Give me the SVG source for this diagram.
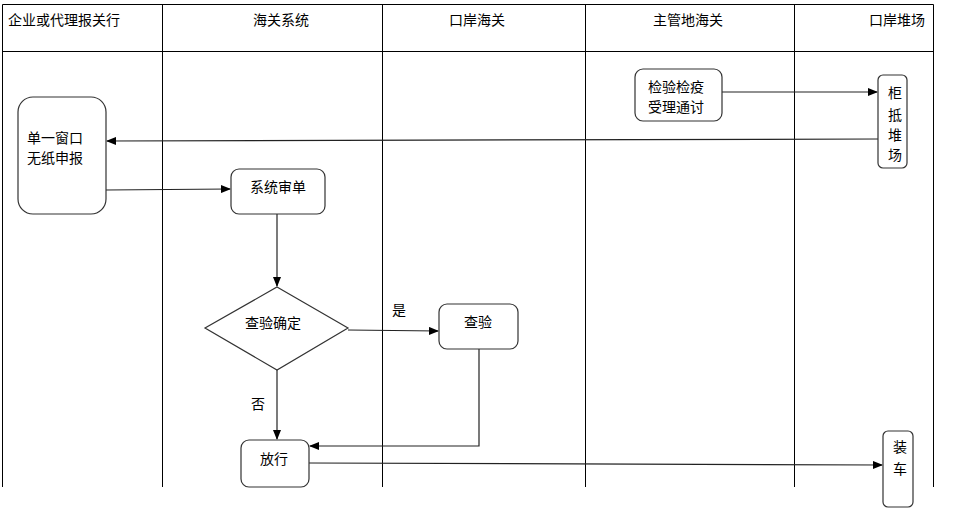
<svg xmlns="http://www.w3.org/2000/svg" width="961" height="508" viewBox="0 0 961 508">
<defs>
<marker id="arr" markerWidth="10" markerHeight="8" refX="9" refY="4" orient="auto" markerUnits="userSpaceOnUse">
<path d="M0,0 L10,4 L0,8 Z" fill="#000"/>
</marker>
<style>
text{font-family:"Noto Sans CJK SC","Noto Sans",sans-serif;font-size:14px;fill:#000}
.lane{stroke:#000;stroke-width:1;fill:none}
.node{fill:#fff;stroke:#333;stroke-width:1.2}
.conn{stroke:#222;stroke-width:1.2;fill:none;marker-end:url(#arr)}
.line{stroke:#222;stroke-width:1.2;fill:none}
.c{text-anchor:middle}
</style>
</defs>
<rect width="961" height="508" fill="#fff"/>
<g id="lanes">
<path class="lane" d="M2.5,487 V4.5 H933.5 V487"/>
<path class="lane" d="M2.5,51.5 H933.5"/>
<path class="lane" d="M162.5,4.5 V487 M382.5,4.5 V487 M585.5,4.5 V487 M794.5,4.5 V487"/>
<text x="8" y="25">企业或代理报关行</text>
<text class="c" x="281" y="25">海关系统</text>
<text class="c" x="477" y="25">口岸海关</text>
<text class="c" x="688" y="25">主管地海关</text>
<text class="c" x="897" y="25">口岸堆场</text>
</g>
<g id="connectors">
<path class="conn" d="M722,92 H877"/>
<path class="conn" d="M878,139 L107,141"/>
<path class="conn" d="M106,190 L230,189"/>
<path class="conn" d="M277,214 V286"/>
<path class="conn" d="M348,330 L438,331"/>
<path class="conn" d="M277,370 V439"/>
<path class="conn" d="M479,349 V446 H310"/>
<path class="conn" d="M309,463 L882,465"/>
<text x="392" y="315">是</text>
<text x="251" y="409">否</text>
</g>
<g id="n-danyi">
<rect class="node" x="18" y="97" width="88" height="117" rx="15"/>
<text class="c" x="55" y="143">单一窗口</text>
<text class="c" x="55" y="163">无纸申报</text>
</g>
<g id="n-shendan">
<rect class="node" x="231" y="169" width="94" height="45" rx="8"/>
<text class="c" x="278" y="192">系统审单</text>
</g>
<g id="n-queding">
<polygon class="node" points="277,287 348,328 277,370 205,328"/>
<text class="c" x="273" y="328">查验确定</text>
</g>
<g id="n-chayan">
<rect class="node" x="439" y="304" width="79" height="45" rx="8"/>
<text class="c" x="478" y="327">查验</text>
</g>
<g id="n-fangxing">
<rect class="node" x="241" y="440" width="68" height="47" rx="8"/>
<text class="c" x="274" y="464">放行</text>
</g>
<g id="n-jianyi">
<rect class="node" x="635" y="69" width="87" height="52" rx="8"/>
<text class="c" x="676" y="92">检验检疫</text>
<text class="c" x="676" y="112">受理通讨</text>
</g>
<g id="n-duichang">
<rect class="node" x="878" y="75" width="29" height="93" rx="5"/>
<text class="c" x="895" y="98">柜</text>
<text class="c" x="895" y="120">抵</text>
<text class="c" x="895" y="140">堆</text>
<text class="c" x="895" y="160">场</text>
</g>
<g id="n-zhuangche">
<rect class="node" x="883" y="431" width="30" height="76" rx="5"/>
<text class="c" x="900" y="452">装</text>
<text class="c" x="900" y="474">车</text>
</g>
</svg>
